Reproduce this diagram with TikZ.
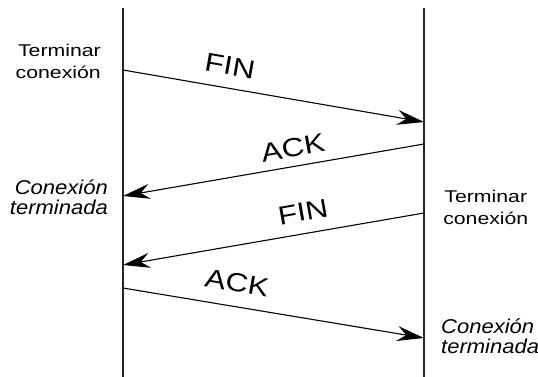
\documentclass[tikz,border=0pt]{standalone}
\usepackage{fontspec}
\setmainfont{Liberation Sans}
\usetikzlibrary{arrows.meta}
\begin{document}
\begin{tikzpicture}[x=1pt,y=-1pt,
  lifeline/.style={line width=1.4pt, draw=black!85},
  msg/.style={line width=1.1pt, -{Stealth[length=27pt,width=15pt,inset=9pt]}},
  msglabel/.style={inner sep=0, font=\fontsize{26}{30}\selectfont, xscale=1.2},
  side/.style={inner sep=0, font=\fontsize{17}{22}\selectfont, xscale=1.25},
  sideit/.style={inner sep=0, font=\fontsize{20}{20}\itshape\selectfont, xscale=1.1},
]
\useasboundingbox (0,0) rectangle (538,377);

% the two end points of the connection
\coordinate (Lt) at (123,8);
\coordinate (Lb) at (123,377);
\coordinate (Rt) at (424,8);
\coordinate (Rb) at (424,377);
\draw[lifeline] (Lt) -- (Lb);
\draw[lifeline] (Rt) -- (Rb);

% message end points
\coordinate (f1s) at (123,70);
\coordinate (f1e) at (424,122);
\coordinate (a1s) at (424,144);
\coordinate (a1e) at (123,196);
\coordinate (f2s) at (424,213);
\coordinate (f2e) at (123,265);
\coordinate (a2s) at (123,288);
\coordinate (a2e) at (424,338);

\draw[msg] (f1s) -- (f1e);
\draw[msg] (a1s) -- (a1e);
\draw[msg] (f2s) -- (f2e);
\draw[msg] (a2s) -- (a2e);

% message labels
\node[rotate=-10, msglabel] (lf1) at (230,66) {FIN};
\node[rotate=10, msglabel] (la1) at (293,148) {ACK};
\node[rotate=10, msglabel] (lf2) at (303,212) {FIN};
\node[rotate=-10, msglabel] (la2) at (237,283) {ACK};

% state labels
\node[side, align=right, anchor=east] (tl) at (101,61) {Terminar\\conexión};
\node[sideit, align=right, anchor=east] (cl) at (108,197) {Conexión\\terminada};
\node[side, align=center, anchor=west] (tr) at (443,207) {Terminar\\conexión};
\node[sideit, align=left, anchor=west] (cr) at (441,336) {Conexión\\terminada};
\end{tikzpicture}
\end{document}
